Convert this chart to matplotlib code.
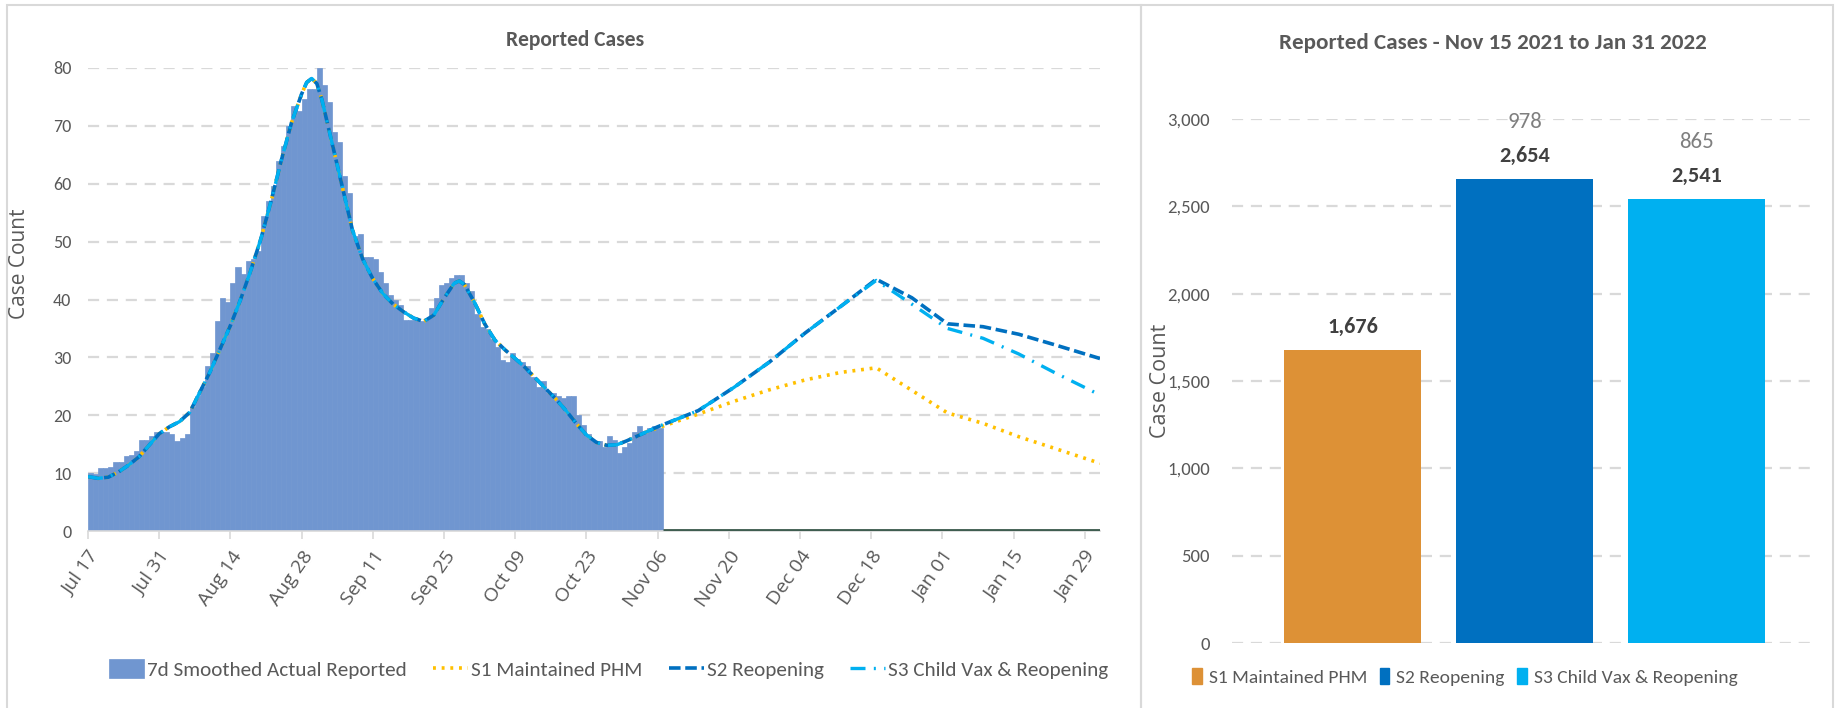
"""Reported cases: 7d smoothed actuals with scenario projections, plus totals per scenario."""

import datetime as dt

import matplotlib

matplotlib.use("Agg")
import matplotlib.pyplot as plt
from matplotlib import font_manager
from matplotlib.patches import Patch, Rectangle
from matplotlib.ticker import FuncFormatter, MultipleLocator


def pick_font(names):
    for name in names:
        try:
            font_manager.findfont(name, fallback_to_default=False)
            return name
        except ValueError:
            pass
    return "DejaVu Sans"


NARROW = pick_font(["Carlito", "Lato", "Liberation Sans"])
WIDE = pick_font(["Open Sans", "Noto Sans", "DejaVu Sans"])

# ---- data ---------------------------------------------------------------
start = dt.date(2021, 7, 17)

# 7d smoothed actual reported, one value per day from Jul 17
actual_cases = [
    10.1, 9.9, 10.9, 10.9, 11.1, 11.9, 11.9, 12.9, 13.2, 13.8,
    15.8, 15.8, 16.4, 17.1, 17.1, 17.1, 16.8, 15.5, 16.0, 16.7,
    21.4, 23.3, 24.9, 28.5, 30.8, 36.3, 40.3, 39.6, 42.8, 45.6,
    44.4, 46.7, 47.0, 48.3, 54.5, 57.0, 59.6, 63.9, 66.5, 70.0,
    73.4, 72.5, 74.6, 76.4, 76.4, 80.0, 77.1, 74.2, 68.9, 67.2,
    61.4, 58.4, 51.0, 51.3, 47.4, 47.3, 47.0, 44.7, 42.8, 40.8,
    40.0, 39.0, 36.5, 36.5, 36.4, 36.3, 36.5, 38.6, 40.3, 42.5,
    42.8, 43.8, 44.2, 44.2, 42.8, 41.5, 37.5, 35.3, 34.9, 33.1,
    31.8, 29.5, 29.2, 30.8, 29.8, 29.2, 28.5, 26.6, 24.9, 25.9,
    23.9, 23.9, 23.3, 23.0, 23.3, 23.3, 20.0, 18.4, 16.8, 15.5,
    15.5, 14.5, 16.5, 15.8, 13.5, 14.5, 15.2, 17.1, 18.1, 17.1,
    17.8, 18.2, 17.8,
]

# model fit over the observed period (days after Jul 17)
fit_days = [0, 2, 4, 6, 8, 10, 12, 14, 16, 18, 20, 22, 24, 26, 28, 30, 32, 34, 36,
            38, 40, 42, 43, 44, 45, 46, 48, 50, 52, 54, 56, 58, 60, 62, 64, 66, 68,
            70, 72, 73, 74, 76, 78, 80, 82, 84, 86, 88, 90, 92, 94, 96, 98, 100,
            102, 104, 106, 108, 110]
fit_values = [9.4, 9.1, 9.3, 10.2, 11.4, 12.8, 14.8, 16.8, 18.0, 18.9, 20.5, 24.0,
              27.5, 31.5, 35.5, 40.0, 45.0, 50.5, 57.0, 64.0, 70.5, 75.5, 77.5, 78.2,
              77.3, 74.5, 67.0, 59.5, 52.0, 47.0, 43.6, 41.0, 39.2, 37.9, 36.8, 36.2,
              37.3, 40.2, 42.8, 43.2, 42.6, 39.5, 35.8, 33.0, 31.3, 29.8, 28.2, 26.4,
              24.6, 22.8, 20.8, 18.6, 16.6, 15.3, 14.8, 14.9, 15.6, 16.4, 17.2]

# projections (days after Jul 17)
proj_days = [112, 120, 127, 134, 141, 148, 155, 162, 169, 176, 183, 190, 199]
s1_proj = [17.8, 20.2, 22.4, 24.4, 26.1, 27.4, 28.2, 24.3, 20.4, 18.6, 16.3, 14.3, 11.7]
s2_proj = [18.0, 20.8, 24.8, 29.2, 34.2, 38.8, 43.5, 40.3, 35.8, 35.3, 34.0, 32.2, 29.8]
s3_proj = [18.0, 20.8, 24.8, 29.2, 34.2, 38.8, 43.3, 39.2, 35.0, 33.3, 30.6, 27.4, 23.5]

scenarios = ["S1 Maintained PHM", "S2 Reopening", "S3 Child Vax & Reopening"]
scenario_totals = [1676, 2654, 2541]

# ---- styling ------------------------------------------------------------
TEXT = "#595959"
GRID = "#D9D9D9"
C_BAR = "#7096D0"
C_S1 = "#FFC000"
C_S2 = "#0070C0"
C_S3 = "#00B0F0"
C_S1_BAR = "#DD9136"


def day(d):
    return start + dt.timedelta(days=d)


bar_dates = [day(i) for i in range(len(actual_cases))]
fit_dates = [day(d) for d in fit_days]
proj_dates = [day(d) for d in proj_days]

fig = plt.figure(figsize=(18.37, 7.08), dpi=100)

# panel frames
fig.patches.append(Rectangle((7 / 1837, -0.02), 1134 / 1837, 1.013, transform=fig.transFigure,
                             fill=False, edgecolor=GRID, lw=1.5))
fig.patches.append(Rectangle((1141 / 1837, -0.02), 692 / 1837, 1.013, transform=fig.transFigure,
                             fill=False, edgecolor=GRID, lw=1.5))

# ---- left: time series --------------------------------------------------
ax = fig.add_axes([88 / 1837, 1 - 531 / 708, 1012 / 1837, 463 / 708])
bars = ax.bar(bar_dates, actual_cases, width=1.0, align="edge", color=C_BAR,
              edgecolor=C_BAR, linewidth=0.5, zorder=2)
ax.hlines(0, proj_dates[0] + dt.timedelta(days=1), proj_dates[-1], color="#3F5D50", lw=3.5, zorder=3)

line_specs = [
    (s1_proj, C_S1, dict(linestyle=(0, (0.8, 1.6)), lw=2.6)),
    (s2_proj, C_S2, dict(linestyle=(0, (3.2, 1.3)), lw=2.6)),
    (s3_proj, C_S3, dict(linestyle=(0, (4.5, 2.5, 0.6, 2.5)), lw=2.4)),
]
lines = []
for proj, color, style in line_specs:
    (ln,) = ax.plot(fit_dates + proj_dates, fit_values + proj, color=color, zorder=4, **style)
    lines.append(ln)

ax.set_xlim(day(0), day(199))
ax.set_ylim(0, 80)
ax.yaxis.set_major_locator(MultipleLocator(10))
ax.set_xticks([day(d) for d in range(0, 199, 14)])
ax.set_xticklabels([day(d).strftime("%b %d") for d in range(0, 199, 14)],
                   rotation=55, ha="right", rotation_mode="anchor",
                   fontsize=14, color=TEXT, family=WIDE)
ax.tick_params(axis="x", length=6, color=GRID, width=1.2, pad=6)
ax.tick_params(axis="y", length=0, pad=12, labelsize=13, labelcolor=TEXT)
for lab in ax.get_yticklabels():
    lab.set_family(NARROW)
ax.grid(axis="y", color=GRID, linestyle=(0, (5, 3.5)), lw=1.6, zorder=0)
ax.set_axisbelow(True)
for side in ["top", "right", "left"]:
    ax.spines[side].set_visible(False)
ax.spines["bottom"].set_color(GRID)
ax.spines["bottom"].set_linewidth(1.2)

fig.text(575 / 1837, 1 - 40 / 708, "Reported Cases", ha="center", va="center",
         fontsize=15.5, fontweight="bold", color=TEXT, family=NARROW)
fig.text(20 / 1837, 1 - 264 / 708, "Case Count", rotation=90, ha="center", va="center",
         fontsize=15, color=TEXT, family=WIDE)

leg = ax.legend([bars] + lines, ["7d Smoothed Actual Reported"] + scenarios,
                loc="center left", bbox_to_anchor=(109 / 1837, 1 - 669 / 708),
                bbox_transform=fig.transFigure, ncol=4, frameon=False,
                handlelength=1.65, handleheight=1.0, handletextpad=0.15,
                columnspacing=1.25, borderpad=0, borderaxespad=0,
                prop={"family": NARROW, "size": 15.2})
for t in leg.get_texts():
    t.set_color(TEXT)

# ---- right: totals ------------------------------------------------------
bx = fig.add_axes([1232 / 1837, 1 - 643 / 708, 585 / 1837, 524 / 708])
xpos = list(range(len(scenarios)))
bar_colors = [C_S1_BAR, C_S2, C_S3]
bx.bar(xpos, scenario_totals, width=0.8, color=bar_colors, zorder=2)
bx.set_xlim(-0.7, 2.7)
bx.set_ylim(0, 3000)
bx.yaxis.set_major_locator(MultipleLocator(500))
bx.yaxis.set_major_formatter(FuncFormatter(lambda v, _: f"{v:,.0f}"))
bx.tick_params(axis="y", length=0, pad=16, labelsize=13.5, labelcolor=TEXT)
for lab in bx.get_yticklabels():
    lab.set_family(NARROW)
bx.set_xticks([])
bx.grid(axis="y", color=GRID, linestyle=(0, (5, 3.5)), lw=1.6, zorder=0)
bx.set_axisbelow(True)
for side in bx.spines:
    bx.spines[side].set_visible(False)

for i, total in enumerate(scenario_totals):
    bx.annotate(f"{total:,}", (i, total), xytext=(0, 17), textcoords="offset points",
                ha="center", va="center", fontsize=16, fontweight="bold",
                color="#404040", family=NARROW)
    if i > 0:
        bx.annotate(f"{total - scenario_totals[0]:,}", (i, total), xytext=(0, 41),
                    textcoords="offset points", ha="center", va="center",
                    fontsize=16.5, color="#7F7F7F", family=NARROW)

fig.text(1493 / 1837, 1 - 43 / 708, "Reported Cases - Nov 15 2021 to Jan 31 2022",
         ha="center", va="center", fontsize=16.6, fontweight="bold", color=TEXT, family=NARROW)
fig.text(1160 / 1837, 1 - 381 / 708, "Case Count", rotation=90, ha="center", va="center",
         fontsize=15.5, color=TEXT, family=WIDE)

handles = [Patch(color=c) for c in bar_colors]
leg2 = bx.legend(handles, scenarios, loc="center left",
                 bbox_to_anchor=(1192 / 1837, 1 - 677 / 708), bbox_transform=fig.transFigure,
                 ncol=3, frameon=False, handlelength=0.5, handleheight=0.85,
                 handletextpad=0.35, columnspacing=0.65, borderpad=0, borderaxespad=0,
                 prop={"family": NARROW, "size": 14})
for t in leg2.get_texts():
    t.set_color(TEXT)

fig.savefig("out.png", dpi=100)
